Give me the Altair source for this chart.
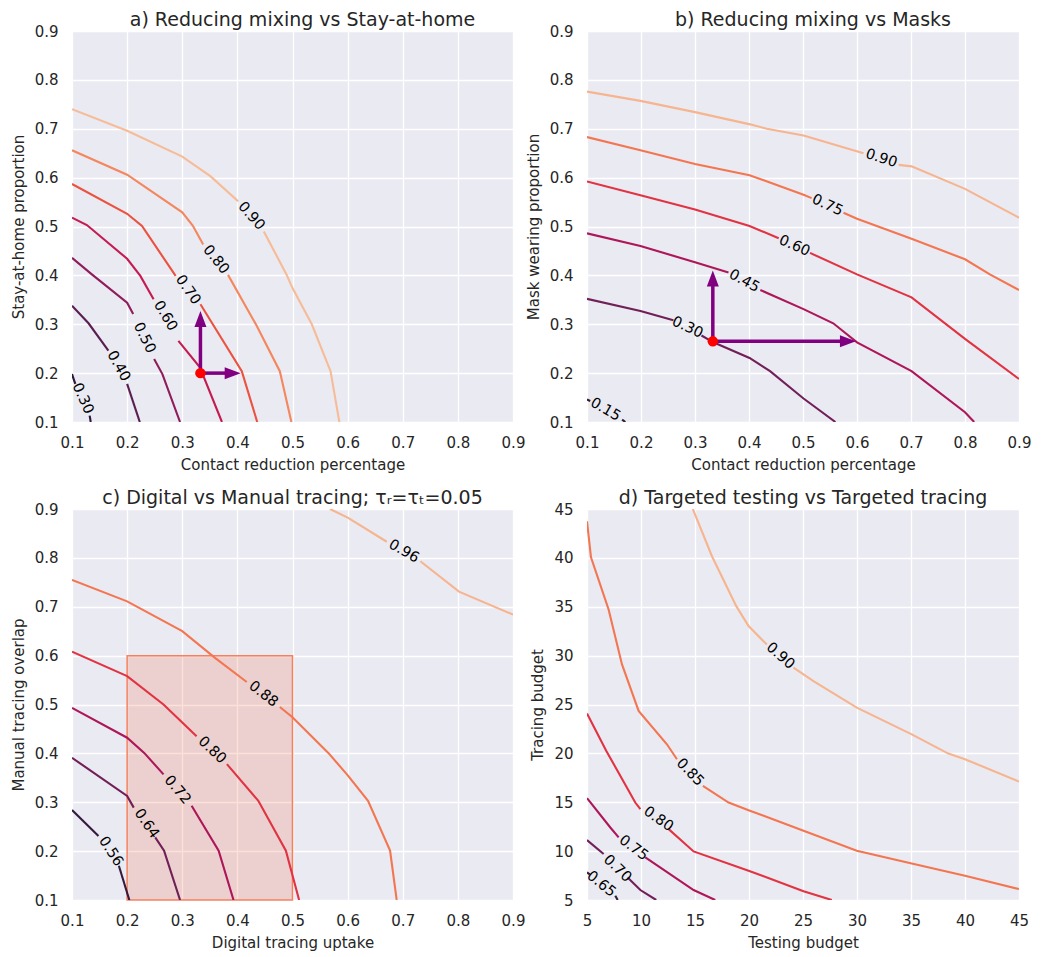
import altair as alt
import pandas as pd

FONT = "DejaVu Sans"
BG = "#EAEAF2"
TXT = "#262626"
PURPLE = "#800080"
ROCKET6 = ["#35193e", "#701f57", "#ad1759", "#e13342", "#f37651", "#f6b48f"]
ROCKET7 = ["#2d173a", "#5a1e50", "#8f1c5b", "#c41c51", "#eb5240", "#f4875e", "#f6bc98"]

# ---------------- panel a: Reducing mixing vs Stay-at-home ----------------
A_LEVELS = ["0.30", "0.40", "0.50", "0.60", "0.70", "0.80", "0.90"]
A_LINES = {
    "0.90": [[(0.1, 0.740), (0.2, 0.696), (0.3, 0.643), (0.351, 0.603), (0.400, 0.553), (0.402, 0.552)],
             [(0.448, 0.490), (0.489, 0.402), (0.500, 0.374), (0.535, 0.300), (0.569, 0.204), (0.585, 0.100)]],
    "0.80": [[(0.1, 0.656), (0.2, 0.606), (0.3, 0.529), (0.319, 0.502), (0.338, 0.463)],
             [(0.383, 0.401), (0.435, 0.297), (0.477, 0.204), (0.498, 0.100)]],
    "0.70": [[(0.1, 0.587), (0.2, 0.526), (0.227, 0.501), (0.288, 0.399)],
             [(0.333, 0.341), (0.408, 0.204), (0.436, 0.100)]],
    "0.60": [[(0.1, 0.518), (0.127, 0.503), (0.2, 0.434), (0.224, 0.399), (0.248, 0.351)],
             [(0.293, 0.266), (0.332, 0.212), (0.372, 0.100)]],
    "0.50": [[(0.1, 0.436), (0.136, 0.402), (0.2, 0.344), (0.211, 0.321)],
             [(0.249, 0.229), (0.264, 0.198), (0.296, 0.100)]],
    "0.40": [[(0.1, 0.338), (0.130, 0.302), (0.166, 0.246)],
             [(0.200, 0.178), (0.223, 0.100)]],
    "0.30": [[(0.1, 0.198), (0.106, 0.178)],
             [(0.132, 0.113), (0.134, 0.100)]],
}
A_LABEL_LEVEL = ["0.90", "0.80", "0.70", "0.60", "0.50", "0.40", "0.30"]
A_LABEL_X = [0.425, 0.361, 0.310, 0.269, 0.231, 0.184, 0.119]
A_LABEL_Y = [0.521, 0.432, 0.370, 0.317, 0.272, 0.214, 0.148]
A_LABEL_ANGLE = [49, 51, 55, 59, 64, 61, 66]
A_DOT = (0.333, 0.200)
A_TIP_UP = (0.333, 0.327)
A_TIP_RIGHT = (0.406, 0.200)

# ---------------- panel b: Reducing mixing vs Masks ----------------
B_LEVELS = ["0.15", "0.30", "0.45", "0.60", "0.75", "0.90"]
B_LINES = {
    "0.90": [[(0.1, 0.776), (0.199, 0.757), (0.300, 0.734), (0.402, 0.709), (0.433, 0.700), (0.501, 0.686), (0.612, 0.650)],
             [(0.677, 0.626), (0.701, 0.623), (0.800, 0.577), (0.9, 0.518)]],
    "0.75": [[(0.1, 0.683), (0.199, 0.656), (0.300, 0.628), (0.401, 0.605), (0.501, 0.565), (0.516, 0.558)],
             [(0.575, 0.528), (0.600, 0.516), (0.701, 0.475), (0.800, 0.433), (0.846, 0.402), (0.9, 0.370)]],
    "0.60": [[(0.1, 0.592), (0.199, 0.564), (0.300, 0.535), (0.401, 0.501), (0.455, 0.476)],
             [(0.513, 0.446), (0.600, 0.402), (0.701, 0.355), (0.800, 0.270), (0.9, 0.188)]],
    "0.45": [[(0.1, 0.486), (0.199, 0.460), (0.300, 0.427), (0.362, 0.406)],
             [(0.421, 0.370), (0.501, 0.331), (0.556, 0.302), (0.600, 0.263), (0.701, 0.204), (0.800, 0.120), (0.817, 0.100)]],
    "0.30": [[(0.1, 0.352), (0.199, 0.327), (0.260, 0.308)],
             [(0.312, 0.277), (0.334, 0.263), (0.401, 0.231), (0.439, 0.204), (0.501, 0.148), (0.560, 0.100)]],
    "0.15": [[(0.1, 0.146), (0.106, 0.143)],
             [(0.165, 0.105), (0.171, 0.100)]],
}
B_LABEL_LEVEL = ["0.90", "0.75", "0.60", "0.45", "0.30", "0.15"]
B_LABEL_X = [0.645, 0.545, 0.484, 0.391, 0.286, 0.134]
B_LABEL_Y = [0.639, 0.543, 0.460, 0.388, 0.293, 0.125]
B_LABEL_ANGLE = [18, 25, 24, 29, 25, 30]
B_DOT = (0.333, 0.265)
B_TIP_UP = (0.333, 0.410)
B_TIP_RIGHT = (0.598, 0.265)

# ---------------- panel c: Digital vs Manual tracing ----------------
C_LEVELS = ["0.56", "0.64", "0.72", "0.80", "0.88", "0.96"]
C_LINES = {
    "0.96": [[(0.568, 0.9), (0.601, 0.882), (0.671, 0.833)],
             [(0.732, 0.793), (0.802, 0.731), (0.9, 0.684)]],
    "0.88": [[(0.1, 0.755), (0.2, 0.711), (0.3, 0.650), (0.360, 0.595), (0.417, 0.546)],
             [(0.477, 0.495), (0.500, 0.474), (0.565, 0.401), (0.601, 0.354), (0.637, 0.303), (0.677, 0.201), (0.689, 0.100)]],
    "0.80": [[(0.1, 0.608), (0.2, 0.558), (0.266, 0.500), (0.326, 0.435)],
             [(0.381, 0.378), (0.438, 0.303), (0.488, 0.201), (0.512, 0.100)]],
    "0.72": [[(0.1, 0.493), (0.2, 0.432), (0.231, 0.401), (0.266, 0.357)],
             [(0.317, 0.293), (0.366, 0.201), (0.393, 0.100)]],
    "0.64": [[(0.1, 0.391), (0.2, 0.313), (0.212, 0.289)],
             [(0.251, 0.228), (0.267, 0.201), (0.296, 0.100)]],
    "0.56": [[(0.1, 0.284), (0.148, 0.231)],
             [(0.185, 0.170), (0.204, 0.100)]],
}
C_LABEL_LEVEL = ["0.96", "0.88", "0.80", "0.72", "0.64", "0.56"]
C_LABEL_X = [0.702, 0.447, 0.354, 0.291, 0.235, 0.170]
C_LABEL_Y = [0.813, 0.521, 0.406, 0.325, 0.256, 0.199]
C_LABEL_ANGLE = [30, 38, 43, 50, 55, 57]
C_RECT_X = (0.2, 0.5)
C_RECT_Y = (0.1, 0.6)

# ---------------- panel d: Targeted testing vs Targeted tracing ----------------
D_LEVELS = ["0.65", "0.70", "0.75", "0.80", "0.85", "0.90"]
D_LINES = {
    "0.90": [[(14.80, 45.0), (16.57, 40.17), (18.82, 35.06), (19.96, 33.02), (21.65, 31.14)],
             [(24.12, 28.76), (25.97, 27.40), (29.98, 24.68), (35.07, 21.95), (38.46, 19.98), (40.0, 19.40), (45.0, 17.12)]],
    "0.85": [[(5.0, 43.74), (5.37, 40.06), (7.0, 34.72), (8.24, 29.10), (9.78, 24.34), (12.40, 20.93), (13.33, 19.40)],
             [(15.73, 16.68), (18.11, 14.97), (19.96, 14.19), (25.05, 12.08), (29.98, 10.04), (35.07, 8.74), (40.0, 7.49), (45.0, 6.12)]],
    "0.80": [[(5.0, 24.07), (6.79, 20.25), (9.47, 14.97), (9.94, 14.29)],
             [(12.56, 12.25), (14.87, 9.97), (19.96, 8.0), (25.05, 5.89), (27.67, 5.0)]],
    "0.75": [[(5.0, 15.42), (7.16, 12.42), (7.93, 11.40)],
             [(10.40, 9.36), (14.87, 6.02), (16.87, 5.0)]],
    "0.70": [[(5.0, 11.13), (6.54, 9.70)],
             [(8.76, 7.31), (9.94, 6.02), (11.41, 5.0)]],
    "0.65": [[(5.0, 7.83), (5.25, 7.62)],
             [(7.62, 5.44), (7.84, 5.0)]],
}
D_LABEL_LEVEL = ["0.90", "0.85", "0.80", "0.75", "0.70", "0.65"]
D_LABEL_X = [22.89, 14.53, 11.60, 9.30, 7.80, 6.30]
D_LABEL_Y = [29.95, 18.04, 13.25, 10.30, 8.20, 6.60]
D_LABEL_ANGLE = [41, 46, 35, 37, 44, 39]

UNIT_TICKS = [0.1, 0.2, 0.3, 0.4, 0.5, 0.6, 0.7, 0.8, 0.9]
BUDGET_TICKS = [5, 10, 15, 20, 25, 30, 35, 40, 45]

LEFT_W = 441
RIGHT_W = 432
PANEL_H = 391


def contour_df(lines):
    rows = []
    for level, segs in lines.items():
        for si, seg in enumerate(segs):
            for pi, (x, y) in enumerate(seg):
                rows.append({"level": level, "seg": f"{level}-{si}", "order": pi, "x": x, "y": y})
    return pd.DataFrame(rows)


def label_df(levels, xs, ys, angles):
    return pd.DataFrame({"level": levels, "x": xs, "y": ys, "angle": angles})


def panel(title, lines, lab, levels, palette, dom, ticks, fmt, xtitle, ytitle, width,
          extra=None, under=None, title_dx=0):
    sx = alt.Scale(domain=list(dom), nice=False, zero=False)
    ax_x = alt.Axis(values=ticks, format=fmt, title=xtitle)
    ax_y = alt.Axis(values=ticks, format=fmt, title=ytitle)

    def X(f="x"):
        return alt.X(f"{f}:Q", scale=sx, axis=ax_x)

    def Y(f="y"):
        return alt.Y(f"{f}:Q", scale=sx, axis=ax_y)

    lines_ch = alt.Chart(contour_df(lines)).mark_line(strokeWidth=2.1, clip=True).encode(
        x=X(), y=Y(),
        color=alt.Color("level:N", scale=alt.Scale(domain=levels, range=palette), legend=None),
        detail="seg:N",
        order="order:Q",
    )
    text_ch = alt.Chart(label_df(*lab)).mark_text(
        font=FONT, fontSize=14.5, color="black", align="center", baseline="middle"
    ).encode(x=X(), y=Y(), text="level:N", angle=alt.Angle("angle:Q", scale=None))

    layers = []
    if under is not None:
        layers += under(X, Y)
    layers += [lines_ch, text_ch]
    if extra is not None:
        layers += extra(X, Y)
    return alt.layer(*layers).resolve_scale(color="independent").properties(
        width=width, height=PANEL_H,
        title=alt.TitleParams(title, dx=title_dx, frame="group"),
    )


def arrows(dot, tip_up, tip_right):
    def make(X, Y):
        stems = pd.DataFrame({
            "x": [dot[0], dot[0]], "y": [dot[1], dot[1]],
            "x2": [tip_up[0], tip_right[0] - 0.02], "y2": [tip_up[1] - 0.02, tip_right[1]],
        })
        stem_ch = alt.Chart(stems).mark_rule(color=PURPLE, strokeWidth=3.5).encode(
            x=X(), y=Y(), x2="x2:Q", y2="y2:Q")
        up = alt.Chart(pd.DataFrame({"x": [tip_up[0]], "y": [tip_up[1]]})).mark_point(
            shape="M0,0 L-0.6,1.6 L0.6,1.6 Z", filled=True, size=400, color=PURPLE, opacity=1
        ).encode(x=X(), y=Y())
        right = alt.Chart(pd.DataFrame({"x": [tip_right[0]], "y": [tip_right[1]]})).mark_point(
            shape="M0,0 L-1.6,-0.6 L-1.6,0.6 Z", filled=True, size=400, color=PURPLE, opacity=1
        ).encode(x=X(), y=Y())
        dot_ch = alt.Chart(pd.DataFrame({"x": [dot[0]], "y": [dot[1]]})).mark_circle(
            size=110, color="#ff0000", opacity=1).encode(x=X(), y=Y())
        return [stem_ch, up, right, dot_ch]
    return make


def rect_layer(X, Y):
    df = pd.DataFrame({"x": [C_RECT_X[0]], "x2": [C_RECT_X[1]], "y": [C_RECT_Y[0]], "y2": [C_RECT_Y[1]]})
    return [alt.Chart(df).mark_rect(
        fill="#f37651", fillOpacity=0.22, stroke="#f37651", strokeOpacity=0.9, strokeWidth=1.5
    ).encode(x=X(), y=Y(), x2="x2:Q", y2="y2:Q")]


a = panel("a) Reducing mixing vs Stay-at-home", A_LINES,
          (A_LABEL_LEVEL, A_LABEL_X, A_LABEL_Y, A_LABEL_ANGLE), A_LEVELS, ROCKET7,
          (0.1, 0.9), UNIT_TICKS, ".1f", "Contact reduction percentage", "Stay-at-home proportion",
          LEFT_W, extra=arrows(A_DOT, A_TIP_UP, A_TIP_RIGHT), title_dx=10)
b = panel("b) Reducing mixing vs Masks", B_LINES,
          (B_LABEL_LEVEL, B_LABEL_X, B_LABEL_Y, B_LABEL_ANGLE), B_LEVELS, ROCKET6,
          (0.1, 0.9), UNIT_TICKS, ".1f", "Contact reduction percentage", "Mask wearing proportion",
          RIGHT_W, extra=arrows(B_DOT, B_TIP_UP, B_TIP_RIGHT), title_dx=10)
c = panel("c) Digital vs Manual tracing; \u03c4\u1d63=\u03c4\u209c=0.05", C_LINES,
          (C_LABEL_LEVEL, C_LABEL_X, C_LABEL_Y, C_LABEL_ANGLE), C_LEVELS, ROCKET6,
          (0.1, 0.9), UNIT_TICKS, ".1f", "Digital tracing uptake", "Manual tracing overlap",
          LEFT_W, under=rect_layer)
d = panel("d) Targeted testing vs Targeted tracing", D_LINES,
          (D_LABEL_LEVEL, D_LABEL_X, D_LABEL_Y, D_LABEL_ANGLE), D_LEVELS, ROCKET6,
          (5, 45), BUDGET_TICKS, "d", "Testing budget", "Tracing budget",
          RIGHT_W)

chart = alt.concat(a, b, c, d, columns=2, spacing={"row": 87, "column": 74}, bounds="flush").resolve_scale(
    color="independent"
).properties(
    padding={"left": 2, "top": 2, "right": 5, "bottom": 2}
).configure_view(
    fill=BG, stroke="transparent"
).configure_axis(
    grid=True, gridColor="white", gridWidth=1.3, domain=False, ticks=False, tickSize=0,
    labelFont=FONT, labelFontSize=15, labelColor=TXT, labelFlush=False,
    titleFont=FONT, titleFontSize=15, titleFontWeight="normal", titleColor=TXT,
).configure_axisY(titlePadding=8, labelPadding=14).configure_axisX(titlePadding=7, labelPadding=13).configure_title(
    font=FONT, fontSize=19, fontWeight="normal", color=TXT, offset=-6, anchor="middle"
)

chart.save("out.html", embed_options={"renderer": "svg", "actions": False})
